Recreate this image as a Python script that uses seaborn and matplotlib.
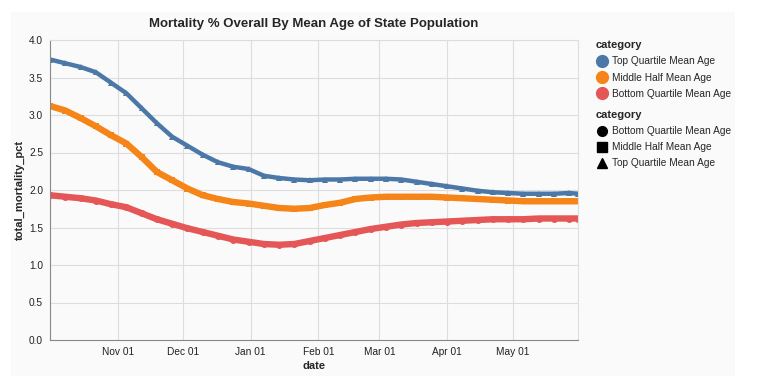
import pandas as pd
import matplotlib
matplotlib.use('Agg')
import matplotlib.pyplot as plt
import matplotlib.dates as mdates
from matplotlib.lines import Line2D
from matplotlib.patches import Rectangle
import seaborn as sns

# weekly readings, Oct 1 2020 -> May 31 2021
dates = pd.date_range('2020-10-01', '2021-05-27', freq='7D').append(pd.DatetimeIndex(['2021-05-31']))

top_quartile = [3.74, 3.69, 3.64, 3.57, 3.43, 3.29, 3.09, 2.89, 2.71, 2.59, 2.47, 2.37,
                2.31, 2.28, 2.19, 2.16, 2.14, 2.13, 2.14, 2.14, 2.15, 2.15, 2.15, 2.14,
                2.11, 2.08, 2.05, 2.02, 1.99, 1.97, 1.96, 1.95, 1.95, 1.95, 1.96, 1.95]
middle_half = [3.12, 3.06, 2.96, 2.85, 2.73, 2.62, 2.44, 2.24, 2.13, 2.02, 1.93, 1.88,
               1.84, 1.82, 1.79, 1.76, 1.75, 1.76, 1.80, 1.83, 1.88, 1.90, 1.91, 1.91,
               1.91, 1.91, 1.90, 1.89, 1.88, 1.87, 1.86, 1.85, 1.85, 1.85, 1.85, 1.85]
bottom_quartile = [1.93, 1.91, 1.89, 1.86, 1.81, 1.77, 1.69, 1.61, 1.55, 1.49, 1.44, 1.39,
                   1.34, 1.31, 1.28, 1.27, 1.28, 1.32, 1.36, 1.40, 1.44, 1.48, 1.51, 1.54,
                   1.56, 1.57, 1.58, 1.59, 1.60, 1.61, 1.61, 1.61, 1.62, 1.62, 1.62, 1.62]

categories = ['Top Quartile Mean Age', 'Middle Half Mean Age', 'Bottom Quartile Mean Age']
colors = ['#4c78a8', '#f58518', '#e45756']
shapes = ['^', 's', 'o']

df = pd.DataFrame({
    'date': list(dates) * 3,
    'total_mortality_pct': top_quartile + middle_half + bottom_quartile,
    'category': [c for c in categories for _ in dates],
})

sns.set_style('white')
plt.rcParams['font.family'] = ['Liberation Sans', 'DejaVu Sans']

fig = plt.figure(figsize=(7.63, 3.92), dpi=100, facecolor='white')
fig.patches.append(Rectangle((11 / 763, 1 - 376 / 392), 724 / 763, 364 / 392,
                             transform=fig.transFigure, facecolor='#fafafa',
                             edgecolor='none', zorder=-10))
ax = fig.add_axes([50 / 763, 1 - 340 / 392, 528 / 763, 300 / 392])
ax.set_facecolor('none')

sns.lineplot(data=df, x='date', y='total_mortality_pct', hue='category', style='category',
             size='category', hue_order=categories, style_order=categories, size_order=categories,
             palette=dict(zip(categories, colors)), markers=dict(zip(categories, shapes)),
             sizes={categories[0]: 3.2, categories[1]: 4.6, categories[2]: 4.6},
             dashes=False, markersize=5, markeredgewidth=0, legend=False, ax=ax)

ax.set_xlim(pd.Timestamp('2020-10-01'), pd.Timestamp('2021-05-31'))
ax.set_ylim(0, 4)
ax.set_yticks([0, 0.5, 1, 1.5, 2, 2.5, 3, 3.5, 4])
ax.yaxis.set_major_formatter(plt.FormatStrFormatter('%.1f'))
ax.xaxis.set_major_locator(mdates.MonthLocator(bymonth=[11, 12, 1, 2, 3, 4, 5]))
ax.xaxis.set_major_formatter(mdates.DateFormatter('%b %d'))
ax.grid(True, color='#dddddd', linewidth=0.8)
ax.set_axisbelow(True)
for side in ['top', 'right']:
    ax.spines[side].set_color('#dddddd')
    ax.spines[side].set_linewidth(0.8)
for side in ['left', 'bottom']:
    ax.spines[side].set_color('#888888')
    ax.spines[side].set_linewidth(0.8)
ax.tick_params(axis='both', length=3.5, width=0.8, color='#888888', labelsize=7.3,
               labelcolor='#222222', pad=1.5)

ax.set_xlabel('date', fontsize=8, fontweight='bold', labelpad=3)
ax.set_ylabel('total_mortality_pct', fontsize=8, fontweight='bold', labelpad=3)
ax.set_title('Mortality % Overall By Mean Age of State Population', fontsize=9.5,
             fontweight='bold', pad=9.5)

# colour legend
color_handles = [Line2D([], [], marker='o', linestyle='none', color=c, markersize=8.5)
                 for c in colors]
leg1 = ax.legend(color_handles, categories, title='category', loc='upper left',
                 bbox_to_anchor=(592 / 763, 1 - 36 / 392), bbox_transform=fig.transFigure,
                 frameon=False, fontsize=7.3, title_fontproperties={'weight': 'bold', 'size': 8},
                 alignment='left', handletextpad=0.35, labelspacing=0.62, handlelength=1.2,
                 borderaxespad=0)
ax.add_artist(leg1)

# shape legend
shape_cats = categories[::-1]
shape_handles = [Line2D([], [], marker=m, linestyle='none', color='black', markersize=7)
                 for m in shapes[::-1]]
ax.legend(shape_handles, shape_cats, title='category', loc='upper left',
          bbox_to_anchor=(592 / 763, 1 - 106 / 392), bbox_transform=fig.transFigure,
          frameon=False, fontsize=7.3, title_fontproperties={'weight': 'bold', 'size': 8},
          alignment='left', handletextpad=0.35, labelspacing=0.6, handlelength=1.2,
          borderaxespad=0)

fig.savefig('out.png', dpi=100, facecolor='white')
